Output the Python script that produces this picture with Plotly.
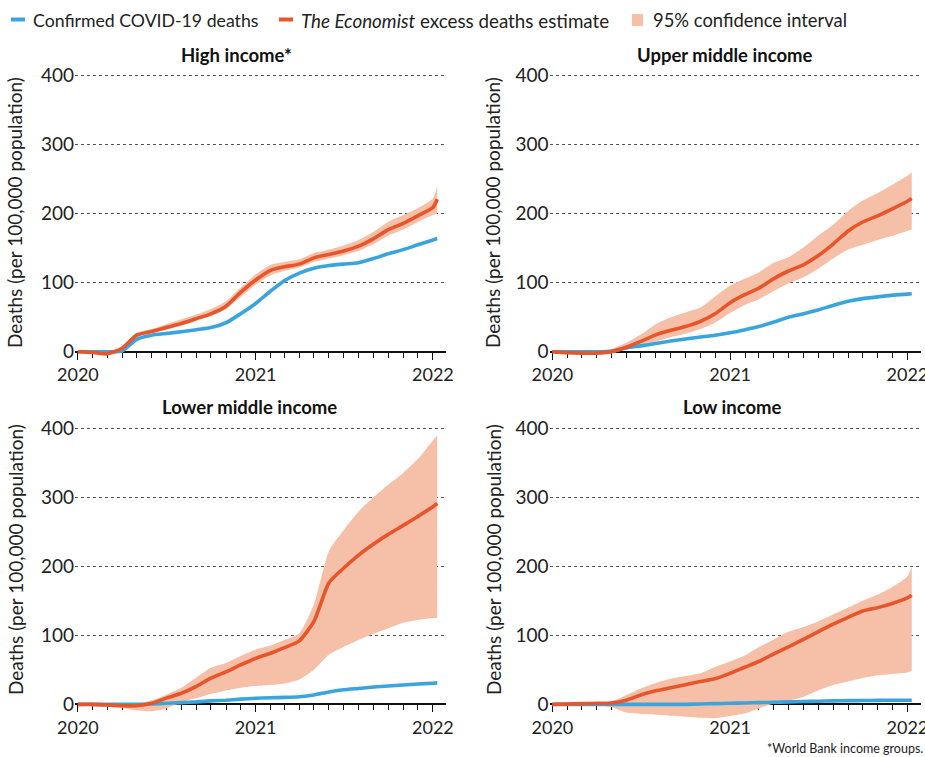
import pandas as pd
import plotly.graph_objects as go

# Monthly points (1st of each month, Jan 2020 .. Jan 2022) plus the final reading
dates = [d.strftime("%Y-%m-%d") for d in pd.date_range("2020-01-01", "2022-01-01", freq="MS")] + ["2022-01-10"]

panel_titles = ["High income*", "Upper middle income", "Lower middle income", "Low income"]

# Cumulative deaths per 100,000 population
high_confirmed = [0, 0, 0, 1, 18, 24, 26.5, 29, 32, 35, 42, 55, 70, 88, 103, 114, 121, 125, 127, 129, 135, 142, 148, 155, 162, 164]
high_excess = [0, -1, -3, 5, 24, 29.5, 35, 41, 48, 55, 66, 86, 104, 118, 123, 127, 136, 141, 146, 153, 164, 177, 186, 197, 209, 221]
high_lower = [-1, -2, -4, 3, 21, 27, 32, 38, 45, 52, 62, 79, 97, 111, 117, 122, 130, 135, 140, 146, 156, 168, 177, 188, 198, 200]
high_upper = [1, 0, -2, 7, 27, 33, 40, 47, 54, 62, 73, 93, 112, 126, 130, 134, 143, 148, 154, 162, 174, 188, 198, 208, 222, 240]

upper_confirmed = [0, 0, 0, 0, 0.5, 5.5, 8.5, 12, 15.5, 18.5, 21.5, 24, 27.5, 32, 36.5, 43, 50, 55, 60.5, 67, 73, 77, 79.5, 82, 83.5, 84]
upper_excess = [0, -1.5, -2, -2, 0, 6.5, 15, 24.5, 31, 36.5, 44, 55, 71, 83, 92, 106, 117, 126, 139, 156, 175, 188, 197, 207, 218, 222]
upper_lower = [0, -2, -3, -3, -1, 3, 9, 15, 21, 26, 33, 42, 56, 68, 76, 88, 99, 108, 120, 135, 148, 155, 162, 168, 175, 177]
upper_upper = [0, 0, 0, 1, 4, 13, 25, 40, 50, 57, 64, 80, 96, 106, 115, 129, 137, 151, 168, 184, 204, 219, 230, 242, 255, 260]

lower_confirmed = [0, 0, 0, 0, 0, 0.5, 1.5, 2.5, 3.5, 5, 6, 7.5, 8.7, 9.5, 10, 11, 13.5, 18, 21, 23, 25, 26.5, 28, 29.5, 30.5, 31]
lower_excess = [0, 0, -1, -2, -2, 1.5, 9, 16, 26, 38, 47, 57, 66.5, 74, 82, 92, 120, 176, 197, 216, 232, 246, 259, 272, 286, 291]
lower_lower = [0, 0, -1, -5, -9, -10, -6, 3, 9, 15, 20, 24, 26.5, 28, 30, 36, 50, 72, 83, 93, 102, 110, 118, 122, 125, 125]
lower_upper = [0, 0, 0, 0, 1, 6, 14, 24, 39, 53, 60, 70, 79.5, 85, 93, 103, 145, 222, 252, 279, 300, 318, 335, 355, 382, 389]

low_confirmed = [0, 0, 0, 0, 0, 0, 0, 0, 0, 0, 0.5, 1, 1.5, 2, 2.5, 3, 3.5, 4, 4.5, 5, 5.3, 5.5, 5.7, 5.9, 6, 6]
low_excess = [0, 0.5, 1, 1.5, 2, 6, 13.5, 19.5, 24, 28.5, 33, 37, 45, 54, 62, 73, 83, 94, 105, 116, 126, 135, 140, 146, 154, 158]
low_lower = [0, 0, 0, -1, -4, -12, -14, -15, -16.5, -18, -19.5, -20, -17, -13, -6, 1.5, 5, 11, 20, 28, 33, 38, 42, 44, 46, 49]
low_upper = [0, 1, 1.5, 2, 4, 13.5, 23, 31, 37, 41, 45, 54, 62, 71, 82.6, 94, 105, 112, 120, 130, 140, 150, 159, 170, 185, 199.5]

y_ticks = [0, 100, 200, 300, 400]
y_title = "Deaths (per 100,000 population)"
x_year_ticks = ["2020-01-01", "2021-01-01", "2022-01-01"]
x_year_labels = ["2020", "2021", "2022"]

panels = [
    (high_confirmed, high_excess, high_lower, high_upper),
    (upper_confirmed, upper_excess, upper_lower, upper_upper),
    (lower_confirmed, lower_excess, lower_lower, lower_upper),
    (low_confirmed, low_excess, low_lower, low_upper),
]

BLUE = "#3aa5dd"
ORANGE = "#e8552a"
BAND = "#f6c0a8"
FONT = "Lato"

W, H = 925, 757
Y_RANGE = [-25, 410]
X_RANGE = ["2019-12-26", "2022-01-28"]

# plot-area boxes in pixels: (left, right, top, bottom)
boxes = [
    (75, 446, 68.8, 369.0),
    (549.5, 920.5, 68.8, 369.0),
    (75, 446, 421.1, 721.6),
    (549.5, 920.5, 421.1, 721.6),
]
title_pos = [(236, 55), (725, 55), (249, 407), (732, 407)]
ytitle_pos = [(15, 213), (493, 213), (15, 560), (493, 560)]

fig = go.Figure()
layout = {}
annotations = []

for i, (conf, exc, lo, hi) in enumerate(panels):
    n = i + 1
    xa = "x" if n == 1 else f"x{n}"
    ya = "y" if n == 1 else f"y{n}"
    fig.add_trace(go.Scatter(x=dates, y=lo, xaxis=xa, yaxis=ya, mode="lines",
                             line=dict(width=0, color=BAND, shape="spline", smoothing=0.6),
                             showlegend=False, hoverinfo="skip"))
    fig.add_trace(go.Scatter(x=dates, y=hi, xaxis=xa, yaxis=ya, mode="lines", fill="tonexty",
                             fillcolor=BAND, line=dict(width=0, color=BAND, shape="spline", smoothing=0.6),
                             showlegend=False, hoverinfo="skip"))
    fig.add_trace(go.Scatter(x=dates, y=conf, xaxis=xa, yaxis=ya, mode="lines",
                             line=dict(width=3.6, color=BLUE, shape="spline", smoothing=0.6),
                             showlegend=False))
    fig.add_trace(go.Scatter(x=dates, y=exc, xaxis=xa, yaxis=ya, mode="lines",
                             line=dict(width=3.6, color=ORANGE, shape="spline", smoothing=0.6),
                             showlegend=False))

    l, r, t, b = boxes[i]
    ydom = [1 - b / H, 1 - t / H]
    zero_pos = ydom[0] + (0 - Y_RANGE[0]) / (Y_RANGE[1] - Y_RANGE[0]) * (ydom[1] - ydom[0])
    layout["xaxis" if n == 1 else f"xaxis{n}"] = dict(
        domain=[l / W, r / W], anchor="free", position=zero_pos, type="date", range=X_RANGE,
        tickvals=x_year_ticks, ticktext=x_year_labels, ticks="outside", ticklen=7, tickwidth=1.3,
        tickcolor="#111", showline=True, linecolor="#111", linewidth=2, showgrid=False,
        zeroline=False, layer="below traces", automargin=False, ticklabeloverflow="allow",
        tickfont=dict(family=FONT, size=18, color="#222"),
        minor=dict(dtick="M1", tick0="2020-01-01", ticks="outside", ticklen=5, tickwidth=1.2,
                   tickcolor="#111", showgrid=False),
    )
    layout["yaxis" if n == 1 else f"yaxis{n}"] = dict(
        domain=ydom, anchor=xa, range=Y_RANGE, tickvals=y_ticks, ticks="", showline=False,
        showgrid=True, gridcolor="#555", gridwidth=1, griddash="dot", zeroline=False,
        automargin=False, tickfont=dict(family=FONT, size=19, color="#222"),
    )
    tx, ty = title_pos[i]
    annotations.append(dict(text=f"<b>{panel_titles[i]}</b>", x=tx / W, y=1 - ty / H,
                            xref="paper", yref="paper", xanchor="center", yanchor="middle",
                            showarrow=False, font=dict(family=FONT, size=18.5, color="#111")))
    yx, yy = ytitle_pos[i]
    annotations.append(dict(text=y_title, x=yx / W, y=1 - yy / H, textangle=-90,
                            xref="paper", yref="paper", xanchor="center", yanchor="middle",
                            showarrow=False, font=dict(family=FONT, size=19, color="#222")))

# legend row
shapes = [
    dict(type="rect", xref="paper", yref="paper", x0=11 / W, x1=25 / W, y0=1 - 21.5 / H, y1=1 - 17.5 / H,
         fillcolor=BLUE, line=dict(width=0)),
    dict(type="rect", xref="paper", yref="paper", x0=279 / W, x1=293 / W, y0=1 - 21.5 / H, y1=1 - 17.5 / H,
         fillcolor=ORANGE, line=dict(width=0)),
    dict(type="rect", xref="paper", yref="paper", x0=632 / W, x1=643 / W, y0=1 - 26 / H, y1=1 - 14 / H,
         fillcolor=BAND, line=dict(width=0)),
]
legend_items = [
    ("Confirmed COVID-19 deaths", 31, 17.7),
    ("<i>The Economist</i> excess deaths estimate", 299, 18.8),
    ("95% confidence interval", 651, 18.4),
]
for text, x0, fsize in legend_items:
    annotations.append(dict(text=text, x=x0 / W, y=1 - 20 / H, xref="paper", yref="paper",
                            xanchor="left", yanchor="middle", showarrow=False,
                            font=dict(family=FONT, size=fsize, color="#222")))

annotations.append(dict(text="*World Bank income groups.", x=925 / W, y=1 - 748 / H,
                        xref="paper", yref="paper", xanchor="right", yanchor="middle",
                        showarrow=False, font=dict(family=FONT, size=12.5, color="#222")))

fig.update_layout(
    width=W, height=H, margin=dict(l=0, r=0, t=0, b=0),
    paper_bgcolor="white", plot_bgcolor="white",
    annotations=annotations, shapes=shapes, showlegend=False,
    **layout,
)

fig.write_html("out.html")
